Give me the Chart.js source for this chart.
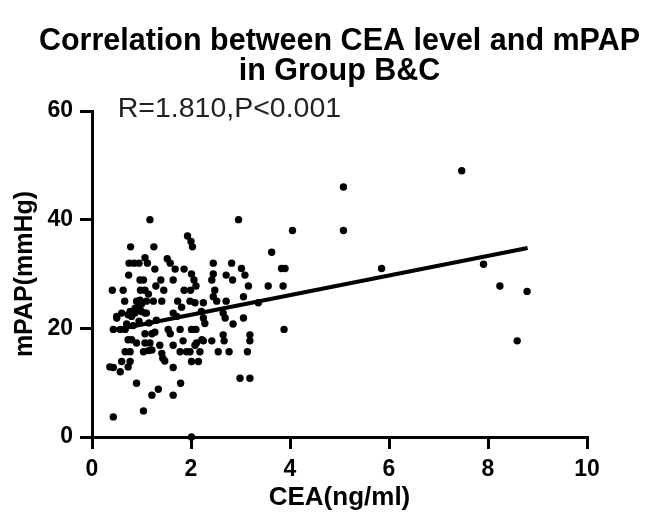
<!DOCTYPE html>
<html>
<head>
<meta charset="utf-8">
<script src="https://cdn.jsdelivr.net/npm/chart.js@4"></script>
<style>
  html, body { margin: 0; padding: 0; background: #fff; }
  #wrap { width: 654px; height: 526px; }
</style>
</head>
<body>
<div id="wrap"><canvas id="CeaChart" width="654" height="526"></canvas></div>
<script>
// CEA (x) and mPAP (y) of each patient
const ceaValues = [
  1.17, 0.78, 1.25, 1.93, 2.00, 2.03, 1.07, 1.12, 0.75, 0.85, 0.95, 1.52, 1.58, 1.27, 1.68, 1.86,
  2.01, 0.74, 0.97, 1.04, 1.39, 1.64, 1.29, 2.06, 2.10, 0.41, 0.63, 0.98, 1.07, 1.14, 1.45, 1.86,
  1.99, 0.66, 0.90, 0.97, 1.00, 0.94, 0.87, 0.97, 1.10, 1.24, 1.41, 1.73, 1.81, 1.98, 2.08, 2.25,
  0.50, 0.60, 0.73, 0.80, 0.50, 1.00, 1.07, 1.10, 1.64, 1.71, 2.21, 0.77, 0.87,
  0.43, 0.57, 0.67, 1.07, 1.21, 1.27, 1.54, 1.58, 1.78, 2.01, 0.73, 0.80, 0.90, 1.07, 1.17, 1.37,
  1.64, 1.84, 2.11, 0.67, 0.77, 1.04, 1.14, 1.21, 1.41, 1.43, 1.47, 1.78, 1.91, 2.01, 2.15, 0.60,
  0.77, 0.36, 0.43, 0.57, 0.73, 1.64, 0.90, 1.79, 1.21, 1.34, 1.64, 1.04, 0.43, 2.01,
  0.83, 0.95, 1.15, 1.30, 0.70,
  2.96, 4.05, 3.63, 3.83, 3.90, 2.45, 2.82, 3.02, 3.09, 2.45, 2.42, 2.71, 2.84, 3.16, 3.56, 3.86,
  2.48, 2.45, 2.52, 2.71, 3.06, 3.36, 2.25, 2.65, 2.69, 3.06, 2.28, 2.85, 3.88, 2.10, 2.22, 2.25,
  2.08, 2.42, 2.65, 2.67, 3.19, 3.19, 1.98, 2.18, 2.55, 2.77, 3.14, 2.99, 3.19,
  7.47, 5.08, 5.08, 5.85, 7.91, 8.24, 8.79, 8.59
];
const mpapValues = [
  40, 35, 35, 37, 36, 35, 33, 32, 32, 32, 32, 32.8, 32, 30.9, 30.9, 30.9,
  30, 29.8, 28.9, 28.9, 28.9, 28.9, 27.8, 28.9, 27.8, 27, 27, 27, 27, 26.3, 27, 27,
  27, 25, 25, 25.2, 24.5, 24, 23.7, 23.4, 25, 25, 25, 25, 23.9, 25, 24.7, 24.7,
  22.2, 22.8, 22.5, 22.2, 21.9, 23.1, 22.8, 22.8, 22.8, 22.2, 23.1, 23.1, 22.8,
  19.8, 19.8, 19.8, 19, 19, 19.3, 19.8, 19, 19.8, 19.8, 17.9, 17.9, 17.3, 17.3, 17.3, 16.9,
  16.9, 17.7, 17.3, 15.7, 15.7, 15.7, 15.9, 16, 15.4, 14.5, 14, 15.7, 15.7, 13.9, 13.9, 13.9,
  13.9, 12.9, 12.8, 12, 12.9, 12.8, 9.9, 9.9, 7.7, 8.8, 7.7, 4.8, 3.7, 0,
  20.5, 21.3, 21.0, 21.5, 20.8,
  40, 38, 34, 31, 31, 32, 32, 31, 29.8, 30, 28.9, 29.8, 28.9, 27.8, 27.8, 27.8,
  27, 25.8, 25, 25, 25.8, 24.7, 21.9, 22.8, 21.9, 21.9, 20.9, 20.8, 19.8, 19.8, 17.9, 17.7,
  16.9, 17.7, 18.8, 17.7, 18.8, 17.7, 15.7, 15.7, 15.7, 15.7, 15.7, 10.8, 10.8,
  49, 46, 38, 31, 31.8, 27.8, 26.8, 17.7
];

// regression line end points
const fitX = [0.45, 8.8];
const fitY = [19.7, 34.8];

const xTicks = [0, 2, 4, 6, 8, 10];
const yTicks = [0, 20, 40, 60];
const titleLines = ['Correlation between CEA level and mPAP', 'in Group B&C'];
const statsText = 'R=1.810,P<0.001';

const fontFamily = '"Liberation Sans", Arial, Helvetica, sans-serif';

// title is centred over the plot area (not the canvas) and may run wider than it
const plotTitle = {
  id: 'plotTitle',
  afterDraw(chart) {
    const { ctx, chartArea } = chart;
    const cx = (chartArea.left + chartArea.right) / 2;
    ctx.save();
    ctx.font = 'bold 30.5px ' + fontFamily;
    ctx.fillStyle = '#000';
    ctx.textAlign = 'center';
    ctx.textBaseline = 'middle';
    ctx.fillText(titleLines[0], cx, 41.5);
    ctx.fillText(titleLines[1], cx, 72);
    ctx.restore();
  }
};

const statsLabel = {
  id: 'statsLabel',
  afterDraw(chart) {
    const { ctx, scales: { x, y } } = chart;
    ctx.save();
    ctx.font = '28.5px ' + fontFamily;
    ctx.fillStyle = '#222';
    ctx.textBaseline = 'middle';
    ctx.fillText(statsText, x.getPixelForValue(0.52), y.getPixelForValue(60.4));
    ctx.restore();
  }
};

function createCeaChart() {
  let canvas = document.getElementById('CeaChart');

  const chartData = {
    datasets: [
      {
        type: 'scatter',
        label: 'Patients',
        data: ceaValues.map((v, i) => ({ x: v, y: mpapValues[i] })),
        backgroundColor: '#000',
        borderWidth: 0,
        pointRadius: 3.7,
        clip: false,
      },
      {
        type: 'line',
        label: 'Fit',
        data: fitX.map((v, i) => ({ x: v, y: fitY[i] })),
        borderColor: '#000',
        borderWidth: 4,
        pointRadius: 0,
        fill: false,
      }
    ]
  };

  const config = {
    type: 'scatter',
    data: chartData,
    options: {
      responsive: false,
      animation: false,
      layout: { padding: { left: 0, right: 67, top: 111, bottom: 0 } },
      plugins: {
        legend: { display: false },
        tooltip: { enabled: false },
        title: { display: false }
      },
      scales: {
        x: {
          type: 'linear',
          min: 0,
          max: 10,
          afterBuildTicks: s => { s.ticks = xTicks.map(v => ({ value: v })); },
          afterFit: s => { s.height = 89; },
          border: { display: true, color: '#000', width: 3 },
          grid: { drawOnChartArea: false, drawTicks: true, tickLength: 12, color: '#000', lineWidth: 3 },
          ticks: { color: '#000', padding: 7, maxRotation: 0, font: { family: fontFamily, size: 23, weight: 'bold' } },
          title: {
            display: true,
            text: 'CEA(ng/ml)',
            color: '#000',
            font: { family: fontFamily, size: 26, weight: 'bold' },
            padding: { top: 0, bottom: 13 }
          }
        },
        y: {
          type: 'linear',
          min: 0,
          max: 60,
          afterBuildTicks: s => { s.ticks = yTicks.map(v => ({ value: v })); },
          afterFit: s => { s.width = 92; },
          border: { display: true, color: '#000', width: 3 },
          grid: { drawOnChartArea: false, drawTicks: true, tickLength: 12, color: '#000', lineWidth: 3 },
          ticks: { color: '#000', padding: 7, font: { family: fontFamily, size: 23, weight: 'bold' } },
          title: {
            display: true,
            text: 'mPAP(mmHg)',
            color: '#000',
            font: { family: fontFamily, size: 25, weight: 'bold' },
            padding: { top: 10, bottom: 0 }
          }
        }
      }
    },
    plugins: [plotTitle, statsLabel]
  };

  const chart = new Chart(canvas, config);
}

createCeaChart();
</script>
</body>
</html>
